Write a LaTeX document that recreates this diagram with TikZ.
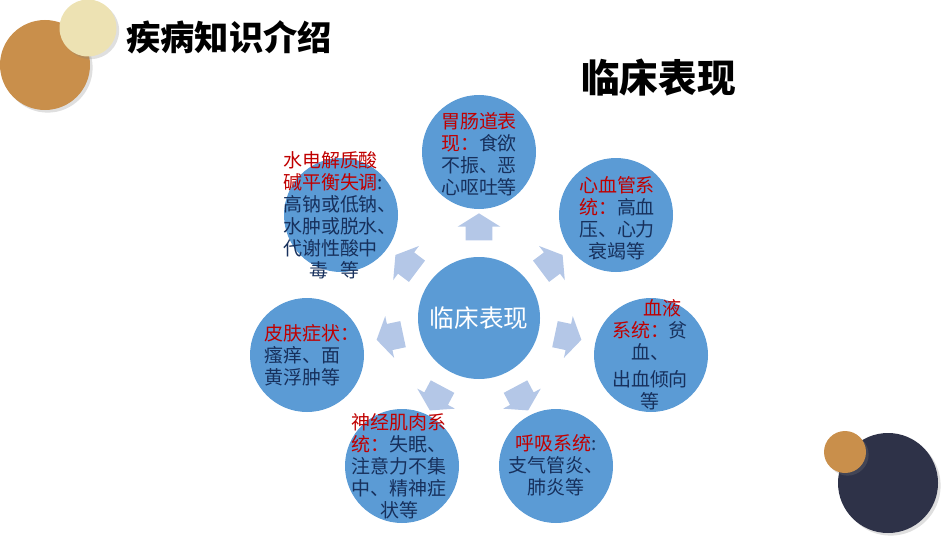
\documentclass[tikz,border=0pt]{standalone}
\usepackage{fontspec}
\newfontfamily\cjk{Noto Sans CJK SC}
\usepackage{xcolor}
\usetikzlibrary{shapes.arrows,shadows}
\definecolor{bubble}{HTML}{5B9BD5}
\definecolor{arrowblue}{HTML}{B4C7E7}
\definecolor{hdred}{HTML}{C00000}
\definecolor{navytxt}{HTML}{17305C}
\definecolor{ochre}{HTML}{C98F4B}
\definecolor{cream}{HTML}{EDE2B3}
\definecolor{darknavy}{HTML}{2E3248}
\newcommand{\redtxt}[1]{\textcolor{hdred}{#1}}

\begin{document}
\begin{tikzpicture}[every node/.style={font=\cjk},
  bub/.style={circle, fill=bubble, minimum size=2.28cm, inner sep=0pt},
  txt/.style={font=\cjk\fontsize{10.8}{12.5}\selectfont, text=navytxt, inner sep=0pt},
  deco/.style={circle, inner sep=0pt, drop shadow={shadow xshift=1.5pt, shadow yshift=-1.5pt, opacity=0.25}},
  arr/.style={single arrow, fill=arrowblue, minimum height=0.54cm, inner xsep=0pt, inner ysep=0.26cm,
    single arrow head extend=0.16cm, single arrow tip angle=116}]
\clip (0,0) rectangle (19,10.7);
% corner decorations
\node[deco, fill=ochre, minimum size=1.8cm] (decoA) at (0.90,9.40) {};
\node[deco, fill=cream, minimum size=1.14cm] (decoB) at (1.76,10.14) {};
\node[deco, fill=darknavy, minimum size=2.0cm] (decoC) at (17.76,1.04) {};
\node[deco, fill=ochre, minimum size=0.84cm] (decoD) at (16.90,1.66) {};
% titles
\node[anchor=west, font=\cjk\bfseries\fontsize{19.5}{19.5}\selectfont] (title) at (2.40,9.96) {疾病知识介绍};
\node[anchor=west, font=\cjk\bfseries\fontsize{22}{22}\selectfont] (heading) at (11.50,9.14) {临床表现};
% centre
\node[bub, minimum size=2.44cm, text=white, font=\cjk\fontsize{14}{14}\selectfont] (ctr) at (9.58,4.34) {临床表现};
% outer circles
\node[bub] (gut) at (9.58,7.66) {};
\node[bub] (heart) at (12.32,6.40) {};
\node[bub] (blood) at (13.02,3.60) {};
\node[bub] (resp) at (11.12,1.38) {};
\node[bub] (neuro) at (8.04,1.38) {};
\node[bub] (skin) at (6.14,3.60) {};
\node[bub] (water) at (6.82,6.40) {};
% block arrows
\node[arr, rotate=90] (aGut) at ([shift={(90:1.74)}]ctr) {};
\node[arr, rotate=37] (aHeart) at ([shift={(37:1.74)}]ctr) {};
\node[arr, rotate=-12] (aBlood) at ([shift={(-12:1.74)}]ctr) {};
\node[arr, rotate=-62] (aResp) at ([shift={(-62:1.74)}]ctr) {};
\node[arr, rotate=-118] (aNeuro) at ([shift={(-118:1.74)}]ctr) {};
\node[arr, rotate=-168] (aSkin) at ([shift={(-168:1.74)}]ctr) {};
\node[arr, rotate=143] (aWater) at ([shift={(143:1.74)}]ctr) {};
% texts
\node[txt, align=center] (tGut) at (9.58,7.62) {\redtxt{胃肠道表}\\\redtxt{现：}食欲\\不振、恶\\心呕吐等};
\node[txt, align=center] (tHeart) at (12.34,6.33) {\redtxt{心血管系}\\\redtxt{统：}高血\\压、心力\\衰竭等};
\node[txt, align=center] (tBlood) at (13.00,3.60) {\hspace*{1.3em}\redtxt{血液}\\\redtxt{系统：}贫\\血、\\[3pt]出血倾向\\等};
\node[txt, align=center] (tResp) at (11.12,1.40) {\redtxt{呼吸系统}:\\支气管炎、\\肺炎等};
\node[txt, align=center] (tNeuro) at (7.98,1.38) {\redtxt{神经肌肉系}\\\redtxt{统：}失眠、\\注意力不集\\中、精神症\\状等};
\node[txt, align=left] (tSkin) at (6.24,3.60) {\redtxt{皮肤症状：}\\瘙痒、面\\黄浮肿等};
\node[txt, align=left] (tWater) at (6.80,6.40) {\redtxt{水电解质酸}\\\redtxt{碱平衡失调}:\\高钠或低钠、\\水肿或脱水、\\代谢性酸中\\\hspace*{1.4em}毒\hspace{0.6em}等};
\end{tikzpicture}
\end{document}
